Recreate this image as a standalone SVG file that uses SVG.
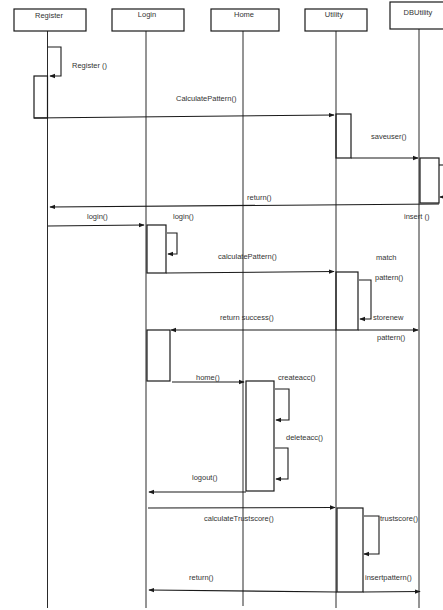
<svg xmlns="http://www.w3.org/2000/svg" width="443" height="610" viewBox="0 0 443 610">
<style>
.bg{fill:#ffffff}
.box{fill:#ffffff;stroke:#1a1a1a;stroke-width:1.2}
.act{fill:none;stroke:#1a1a1a;stroke-width:1.2}
.life{stroke:#2a2a2a;stroke-width:1}
.msg{fill:none;stroke:#1a1a1a;stroke-width:1.1}
.arr{fill:none;stroke:#1a1a1a;stroke-width:1.1;marker-end:url(#ah)}
text{font-family:"Liberation Sans",Arial,sans-serif;font-size:7.5px;fill:#333333}
.h{text-anchor:middle}
</style>
<defs>
<marker id="ah" viewBox="0 0 8 8" refX="7" refY="4" markerWidth="6" markerHeight="6" orient="auto" markerUnits="userSpaceOnUse">
<path d="M0,1 L8,4 L0,7 Z" fill="#1a1a1a"/>
</marker>
</defs>
<rect class="bg" x="0" y="0" width="443" height="610"/>
<g id="lifelines">
<line class="life" x1="47.5" y1="31" x2="47.5" y2="608"/>
<line class="life" x1="146" y1="31" x2="146" y2="608"/>
<line class="life" x1="243" y1="31" x2="243" y2="606"/>
<line class="life" x1="336" y1="31" x2="336" y2="608"/>
<line class="life" x1="419" y1="29" x2="419" y2="608"/>
</g>
<g id="node-register"><rect class="box" x="14" y="9" width="72" height="22"/><text class="h" x="49" y="18">Register</text></g>
<g id="node-login"><rect class="box" x="112" y="9" width="72" height="22"/><text class="h" x="147" y="17">Login</text></g>
<g id="node-home"><rect class="box" x="211" y="9" width="68" height="22"/><text class="h" x="244" y="17">Home</text></g>
<g id="node-utility"><rect class="box" x="305" y="9" width="62" height="22"/><text class="h" x="334" y="17">Utility</text></g>
<g id="node-dbutility"><rect class="box" x="390" y="2" width="56" height="27"/><text class="h" x="418" y="15">DBUtility</text></g>
<g id="activations">
<rect class="act" x="34" y="76" width="13.5" height="42"/>
<rect class="act" x="336" y="114" width="15" height="44"/>
<rect class="act" x="420" y="158" width="19" height="45"/>
<rect class="act" x="147" y="225" width="19" height="48"/>
<rect class="act" x="336" y="272" width="22" height="58"/>
<rect class="act" x="147" y="330" width="23" height="51"/>
<rect class="act" x="246" y="381" width="28" height="110"/>
<rect class="act" x="337" y="508" width="26" height="84"/>
</g>
<g id="connectors">
<polyline class="arr" points="47.5,47 61,47 61,76 50,76"/>
<line class="arr" x1="34" y1="118" x2="334" y2="115"/>
<line class="arr" x1="351" y1="158" x2="418" y2="158"/>
<polyline class="msg" points="439,165 443,165"/>
<line class="arr" x1="443" y1="197" x2="440" y2="197"/>
<line class="arr" x1="439" y1="204" x2="50" y2="207"/>
<line class="arr" x1="48" y1="226" x2="144" y2="225"/>
<polyline class="arr" points="167,233 177,233 177,254 168,254"/>
<line class="arr" x1="166" y1="273" x2="334" y2="271.5"/>
<polyline class="arr" points="359,280 371,280 371,319 360,319"/>
<line class="arr" x1="358" y1="330" x2="418" y2="330"/>
<line class="arr" x1="336" y1="330" x2="171" y2="330"/>
<line class="arr" x1="172" y1="382" x2="244" y2="382"/>
<polyline class="arr" points="275,389 289,389 289,420 276,420"/>
<polyline class="arr" points="275,448 288,448 288,479 276,479"/>
<line class="arr" x1="246" y1="492" x2="149" y2="492"/>
<line class="arr" x1="148" y1="508" x2="335" y2="507.5"/>
<polyline class="arr" points="364,516 379,516 379,554 364,554"/>
<line class="arr" x1="337" y1="592" x2="149" y2="590"/>
<line class="arr" x1="363" y1="592" x2="420" y2="591.5"/>
</g>
<g id="labels">
<text x="72" y="68">Register ()</text>
<text x="176" y="101">CalculatePattern()</text>
<text x="371" y="139">saveuser()</text>
<text x="247" y="200">return()</text>
<text x="404" y="219">insert ()</text>
<text x="87" y="219">login()</text>
<text x="173" y="219">login()</text>
<text x="218" y="259">calculatePattern()</text>
<text x="376" y="260">match</text>
<text x="375" y="280">pattern()</text>
<text x="220" y="320">return success()</text>
<text x="373" y="320">storenew</text>
<text x="377" y="340">pattern()</text>
<text x="196" y="380">home()</text>
<text x="278" y="380">createacc()</text>
<text x="286" y="440">deleteacc()</text>
<text x="192" y="480">logout()</text>
<text x="204" y="521">calculateTrustscore()</text>
<text x="380" y="521">trustscore()</text>
<text x="189" y="580">return()</text>
<text x="365" y="580">insertpattern()</text>
</g>
</svg>
